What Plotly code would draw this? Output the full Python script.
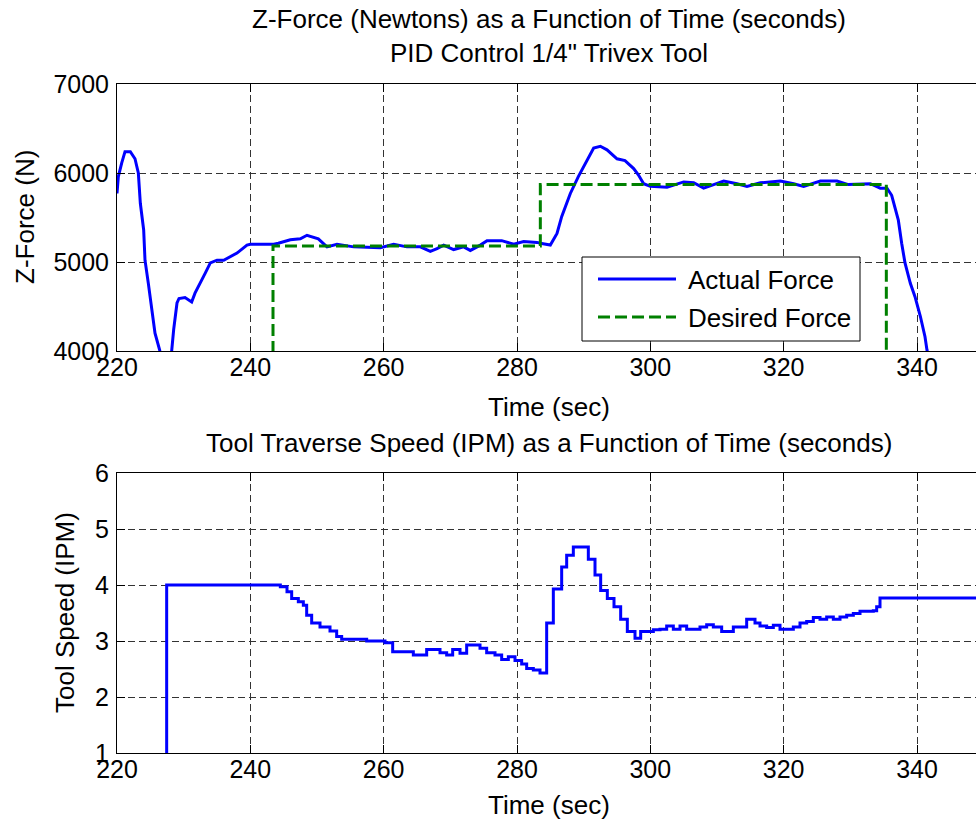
import plotly.graph_objects as go

# ---------------- data ----------------
force_t = [220.0, 220.2, 220.7, 221.2, 222.0, 222.7, 223.2, 223.5, 224.0, 224.2, 224.7, 225.2,
           225.7, 226.4, 226.9, 227.5, 228.0, 228.2, 228.5, 229.0, 229.3, 230.2, 231.2, 231.7,
           232.5, 233.2, 234.0, 235.0, 236.0, 237.0, 238.0, 239.5, 240.0, 243.5, 244.2, 246.0,
           247.5, 248.5, 250.2, 251.5, 253.0, 255.5, 259.5, 261.5, 263.5, 265.5, 267.0, 268.0,
           269.0, 270.5, 272.0, 273.0, 274.5, 275.5, 277.7, 279.5, 281.0, 283.0, 283.5, 285.0,
           286.0, 286.7, 288.0, 289.2, 290.7, 291.5, 292.5, 293.5, 295.0, 296.2, 297.5, 298.2,
           299.0, 300.0, 302.5, 304.0, 305.0, 306.5, 308.0, 309.5, 311.0, 313.0, 314.5, 316.5,
           319.5, 321.5, 323.0, 325.5, 328.0, 329.7, 331.5, 333.0, 334.5, 335.5, 336.2, 336.7,
           337.2, 337.7, 338.2, 339.0, 339.7, 340.5, 341.2, 341.5, 341.7]
force_actual = [5770, 5960, 6110, 6240, 6240, 6160, 6000, 5660, 5360, 5020, 4760, 4460,
                4200, 4010, 3800, 3700, 3850, 4000, 4240, 4540, 4590, 4600, 4550, 4650,
                4760, 4870, 4990, 5020, 5020, 5060, 5100, 5190, 5200, 5200, 5210, 5250,
                5260, 5300, 5260, 5170, 5200, 5170, 5160, 5200, 5170, 5170, 5120, 5150,
                5190, 5140, 5170, 5130, 5190, 5240, 5240, 5200, 5230, 5220, 5210, 5190,
                5320, 5510, 5770, 5960, 6180, 6280, 6300, 6260, 6160, 6140, 6050, 5980,
                5880, 5850, 5840, 5880, 5900, 5890, 5830, 5870, 5910, 5880, 5850, 5890,
                5910, 5880, 5850, 5910, 5910, 5870, 5880, 5880, 5830, 5830, 5750, 5620,
                5470, 5210, 4990, 4760, 4610, 4390, 4160, 4010, 3950]

desired_t = [220.0, 243.4, 283.5, 335.4, 350.0]
desired_force = [0, 5180, 5870, 0, 0]

speed_t = [220.0, 227.45, 244.5, 245.5, 246.2, 247.2, 247.95, 248.45, 249.2, 250.45, 251.95,
           252.95, 253.7, 257.45, 260.2, 261.35, 264.45, 266.45, 268.45, 269.45, 270.35,
           271.45, 272.45, 274.45, 275.45, 276.7, 277.7, 278.7, 279.7, 280.7, 281.45, 282.45,
           283.45, 284.45, 285.45, 286.7, 287.45, 288.45, 290.7, 291.7, 292.55, 293.55, 294.55,
           295.55, 296.55, 297.7, 298.55, 300.45, 301.45, 302.45, 303.45, 304.45, 305.45,
           307.45, 308.45, 309.45, 310.7, 312.45, 314.45, 315.7, 316.45, 317.45, 318.45,
           319.45, 321.45, 322.45, 323.45, 324.45, 325.45, 326.45, 327.45, 328.45, 329.45,
           330.45, 331.45, 333.45, 333.95, 334.45, 350.0]
speed_ipm = [0, 4.00, 3.97, 3.88, 3.76, 3.70, 3.64, 3.46, 3.32, 3.25, 3.18,
             3.08, 3.03, 3.00, 2.97, 2.81, 2.75, 2.85, 2.79, 2.75, 2.85,
             2.78, 2.93, 2.87, 2.79, 2.75, 2.67, 2.72, 2.65, 2.59, 2.51, 2.48,
             2.43, 3.32, 3.93, 4.32, 4.53, 4.68, 4.46, 4.18, 3.90, 3.76, 3.61,
             3.39, 3.17, 3.05, 3.17, 3.20, 3.21, 3.27, 3.21, 3.27, 3.21,
             3.25, 3.29, 3.25, 3.17, 3.25, 3.39, 3.32, 3.27, 3.24, 3.28,
             3.21, 3.25, 3.32, 3.35, 3.42, 3.39, 3.43, 3.39, 3.43, 3.46,
             3.49, 3.53, 3.54, 3.61, 3.77, 3.77]

x_ticks = [220, 240, 260, 280, 300, 320, 340]
force_ticks = [4000, 5000, 6000, 7000]
speed_ticks = [1, 2, 3, 4, 5, 6]

# ---------------- layout constants ----------------
W, H = 976, 823
FONT = "Liberation Sans, Arial, Helvetica, sans-serif"
BLUE = "#0000FF"
GREEN = "#008000"


def px_x(p):
    return p / W


def px_y(p):
    return 1 - p / H


fig = go.Figure()
fig.add_trace(go.Scatter(x=force_t, y=force_actual, mode="lines", name="Actual Force",
                         line=dict(color=BLUE, width=3), xaxis="x", yaxis="y"))
fig.add_trace(go.Scatter(x=desired_t, y=desired_force, mode="lines", name="Desired Force",
                         line=dict(color=GREEN, width=3, dash="12px,5px", shape="hv"),
                         xaxis="x", yaxis="y"))
fig.add_trace(go.Scatter(x=speed_t, y=speed_ipm, mode="lines", name="Tool Speed",
                         line=dict(color=BLUE, width=3, shape="hv"), xaxis="x2", yaxis="y2"))

xrange = [220, 220 + (W - 117) / (800 / 120)]
axis_common = dict(showline=True, linecolor="black", linewidth=1, ticks="inside", ticklen=8,
                   tickcolor="black", showgrid=True, gridcolor="#333333", gridwidth=1,
                   griddash="7px,4px", zeroline=False, automargin=False,
                   tickfont=dict(family=FONT, size=25, color="black"))

fig.update_layout(
    width=W, height=H,
    margin=dict(l=0, r=0, t=0, b=0, autoexpand=False),
    paper_bgcolor="white", plot_bgcolor="white",
    showlegend=False,
    xaxis=dict(domain=[px_x(117), 1], range=xrange, tickvals=x_ticks, anchor="y",
               mirror="ticks", ticklabelstandoff=-6, **axis_common),
    yaxis=dict(domain=[px_y(351), px_y(84)], range=[4000, 7000], tickvals=force_ticks,
               anchor="x", ticklabelstandoff=2, **axis_common),
    xaxis2=dict(domain=[px_x(117), 1], range=xrange, tickvals=x_ticks, anchor="y2",
                mirror="ticks", ticklabelstandoff=-6, **axis_common),
    yaxis2=dict(domain=[px_y(753), px_y(473)], range=[1, 6], tickvals=speed_ticks,
                anchor="x2", ticklabelstandoff=2, **axis_common),
)

tfont = dict(family=FONT, size=26, color="black")
ann = [
    dict(text="Z-Force (Newtons) as a Function of Time (seconds)<br>PID Control 1/4\" Trivex Tool",
         x=px_x(549), y=px_y(36), xanchor="center", yanchor="middle"),
    dict(text="Time (sec)", x=px_x(549), y=px_y(407), xanchor="center", yanchor="middle"),
    dict(text="Tool Traverse Speed (IPM) as a Function of Time (seconds)",
         x=px_x(549), y=px_y(443), xanchor="center", yanchor="middle"),
    dict(text="Time (sec)", x=px_x(549), y=px_y(805), xanchor="center", yanchor="middle"),
    dict(text="Z-Force (N)", x=px_x(25), y=px_y(217), xanchor="center", yanchor="middle",
         textangle=-90),
    dict(text="Tool Speed (IPM)", x=px_x(65), y=px_y(613), xanchor="center", yanchor="middle",
         textangle=-90),
    dict(text="Actual Force", x=px_x(686), y=px_y(280), xanchor="left", yanchor="middle"),
    dict(text="Desired Force", x=px_x(686), y=px_y(318), xanchor="left", yanchor="middle"),
]
for a in ann:
    fig.add_annotation(xref="paper", yref="paper", showarrow=False, font=tfont, **a)

# legend box drawn as shapes
fig.add_shape(type="rect", xref="paper", yref="paper", x0=px_x(582), x1=px_x(860),
              y0=px_y(341), y1=px_y(257), line=dict(color="black", width=1),
              fillcolor="white", layer="above")
fig.add_shape(type="line", xref="paper", yref="paper", x0=px_x(598), x1=px_x(676),
              y0=px_y(279), y1=px_y(279), line=dict(color=BLUE, width=3), layer="above")
fig.add_shape(type="line", xref="paper", yref="paper", x0=px_x(598), x1=px_x(676),
              y0=px_y(317), y1=px_y(317), line=dict(color=GREEN, width=3, dash="12px,5px"),
              layer="above")

fig.write_html("out.html")
